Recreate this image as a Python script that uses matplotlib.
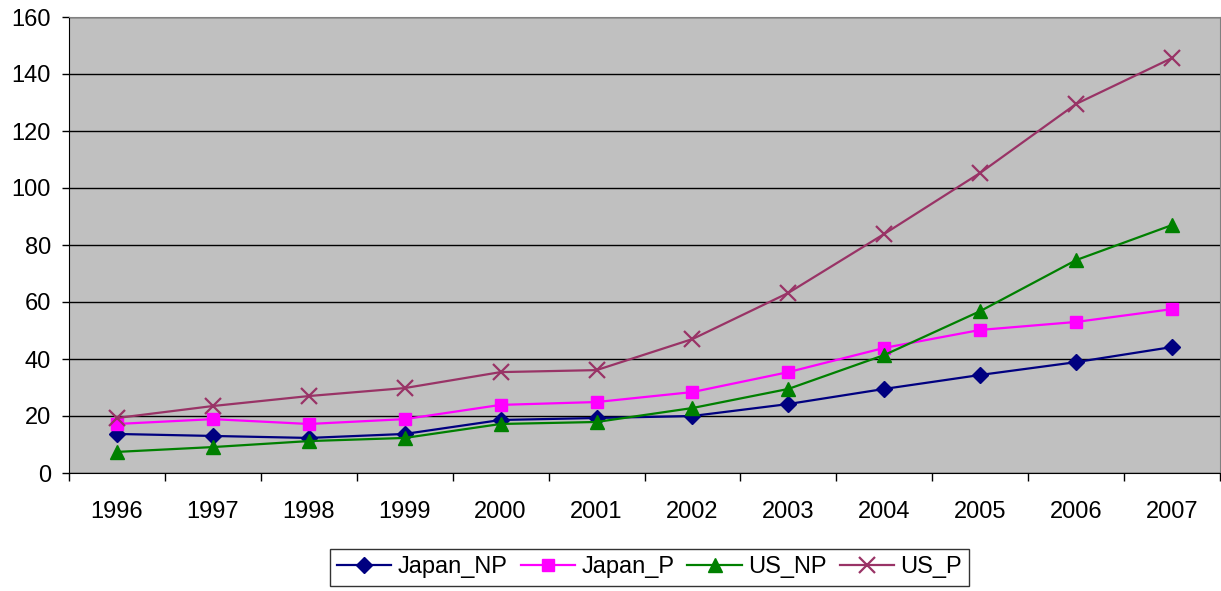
import matplotlib.pyplot as plt
from matplotlib.ticker import FixedLocator

plt.rcParams['font.family'] = ['Liberation Sans', 'DejaVu Sans']

years = ['1996', '1997', '1998', '1999', '2000', '2001', '2002', '2003', '2004', '2005', '2006', '2007']
japan_np = [13.7, 13.0, 12.3, 13.7, 18.6, 19.3, 20.0, 24.2, 29.5, 34.4, 38.9, 44.2]
japan_p = [17.2, 18.9, 17.2, 18.9, 23.9, 24.9, 28.4, 35.4, 43.9, 50.2, 53.0, 57.5]
us_np = [7.4, 9.1, 11.2, 12.3, 17.2, 17.9, 22.8, 29.5, 41.4, 56.8, 74.7, 87.0]
us_p = [19.3, 23.5, 27.0, 29.8, 35.4, 36.1, 47.0, 63.2, 83.9, 105.3, 129.5, 145.6]

fig = plt.figure(figsize=(12.21, 5.91), dpi=100)
ax = fig.add_axes([69 / 1221, 118 / 591, 1151 / 1221, 456 / 591])
ax.set_facecolor('#C0C0C0')

x = list(range(len(years)))
ax.plot(x, japan_np, color='#000080', marker='D', markersize=8, lw=1.6, label='Japan_NP')
ax.plot(x, japan_p, color='#FF00FF', marker='s', markersize=9, lw=1.6, label='Japan_P')
ax.plot(x, us_np, color='#008000', marker='^', markersize=10, lw=1.6, label='US_NP')
ax.plot(x, us_p, color='#993366', marker='x', markersize=11, mew=1.6, lw=1.6, label='US_P')

ax.set_xlim(-0.5, len(years) - 0.5)
ax.set_ylim(0, 160)
ax.set_yticks(range(0, 161, 20))
ax.yaxis.grid(True, color='black', lw=1)
ax.set_axisbelow(True)

ax.set_xticks(x)
ax.set_xticklabels(years)
ax.xaxis.set_minor_locator(FixedLocator([i - 0.5 for i in range(len(years) + 1)]))
ax.tick_params(axis='x', which='major', length=0, pad=20, labelsize=17)
ax.tick_params(axis='x', which='minor', length=6, width=1, direction='out')
ax.tick_params(axis='y', length=5, width=1, direction='out', labelsize=17, pad=8)

for side in ['top', 'right']:
    ax.spines[side].set_color('#808080')
for side in ['left', 'bottom']:
    ax.spines[side].set_color('black')

leg = fig.legend(loc='center', bbox_to_anchor=(649.5 / 1221, 1 - 567.5 / 591), ncol=4,
                 fontsize=17, frameon=True, fancybox=False, edgecolor='black',
                 handlelength=2.3, handletextpad=0.27, columnspacing=0.55,
                 borderpad=0.3, borderaxespad=0)
leg.get_frame().set_linewidth(1)

fig.savefig('out.png', dpi=100)
